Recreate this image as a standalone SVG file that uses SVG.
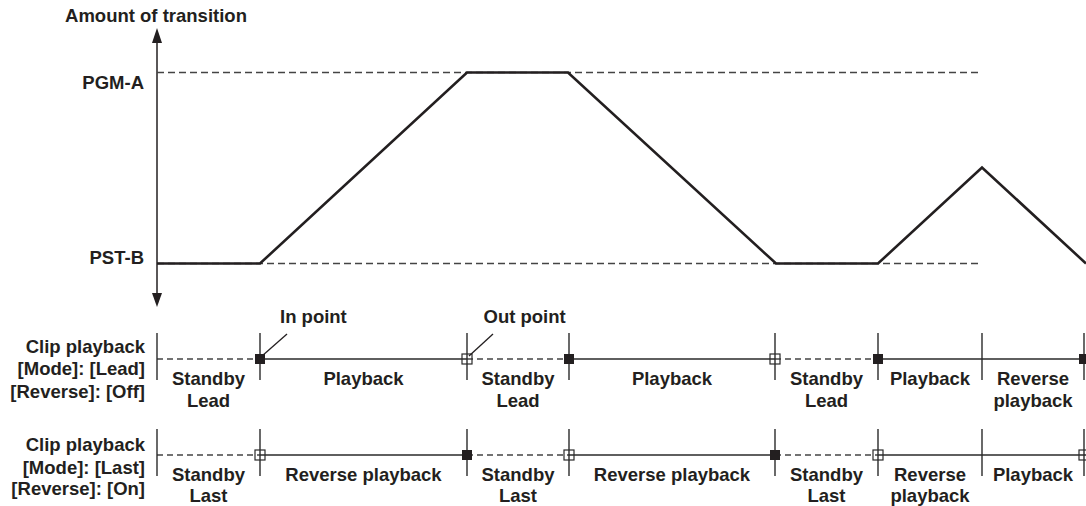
<svg xmlns="http://www.w3.org/2000/svg" width="1086" height="506" viewBox="0 0 1086 506">
  <style>
    text { font-family: "Liberation Sans", Arial, sans-serif; font-weight: bold; font-size: 18.5px; fill: #231f20; }
    .r { text-anchor: end; }
    .m { text-anchor: middle; }
    .axis { stroke: #231f20; stroke-width: 1.5; fill: none; }
    .guide { stroke: #444; stroke-width: 1.5; stroke-dasharray: 7 4; fill: none; }
    .trace { stroke: #231f20; stroke-width: 2.6; fill: none; stroke-linejoin: miter; }
    .run { stroke: #2a2a2a; stroke-width: 1.6; fill: none; }
    .wait { stroke: #444; stroke-width: 1.5; stroke-dasharray: 6 4; fill: none; }
    .tick { stroke: #2a2a2a; stroke-width: 1.4; }
    .lead { stroke: #231f20; stroke-width: 1.3; }
    .on { fill: #231f20; }
    .off { fill: none; stroke: #2a2a2a; stroke-width: 1.2; }
  </style>

  <!-- transition amount chart -->
  <g id="chart">
    <text class="m" x="156" y="21.5">Amount of transition</text>
    <text class="r" x="144" y="89">PGM-A</text>
    <text class="r" x="144" y="264">PST-B</text>
    <line class="axis" x1="157" y1="40" x2="157" y2="296"/>
    <polygon points="157,28 152,43 162,43" fill="#231f20"/>
    <polygon points="157,307 152,293 162,293" fill="#231f20"/>
    <line class="guide" x1="157" y1="72.5" x2="982" y2="72.5"/>
    <line class="guide" x1="157" y1="263.5" x2="982" y2="263.5"/>
    <polyline class="trace" points="157,263.5 260,263.5 467,72.5 568,72.5 776,263.5 878,263.5 982,167.5 1086,263.5"/>
  </g>

  <!-- clip playback, Lead / Reverse Off -->
  <g id="row-lead">
    <text class="r" x="145" y="352.5">Clip playback</text>
    <text class="r" x="145" y="375">[Mode]: [Lead]</text>
    <text class="r" x="145" y="397.5">[Reverse]: [Off]</text>
    <g class="connectors">
      <line class="wait" x1="157" y1="359" x2="260" y2="359"/>
      <line class="run" x1="260" y1="359" x2="467" y2="359"/>
      <line class="wait" x1="467" y1="359" x2="569" y2="359"/>
      <line class="run" x1="569" y1="359" x2="775" y2="359"/>
      <line class="wait" x1="775" y1="359" x2="878" y2="359"/>
      <line class="run" x1="878" y1="359" x2="1086" y2="359"/>
      <line class="tick" x1="157" y1="333" x2="157" y2="380"/>
      <line class="tick" x1="260" y1="333" x2="260" y2="380"/>
      <line class="tick" x1="467" y1="333" x2="467" y2="380"/>
      <line class="tick" x1="569" y1="333" x2="569" y2="380"/>
      <line class="tick" x1="775" y1="333" x2="775" y2="380"/>
      <line class="tick" x1="878" y1="333" x2="878" y2="380"/>
      <line class="tick" x1="982" y1="333" x2="982" y2="380"/>
      <line class="tick" x1="1084" y1="333" x2="1084" y2="380"/>
    </g>
    <rect class="on" x="255" y="354" width="10" height="10"/>
    <rect class="off" x="462" y="354" width="10" height="10"/>
    <rect class="on" x="564" y="354" width="10" height="10"/>
    <rect class="off" x="770" y="354" width="10" height="10"/>
    <rect class="on" x="873" y="354" width="10" height="10"/>
    <rect class="on" x="1079" y="354" width="10" height="10"/>
    <line class="lead" x1="262" y1="356" x2="287" y2="334"/>
    <line class="lead" x1="469" y1="356" x2="493" y2="334"/>
    <text x="280" y="323">In point</text>
    <text x="483.5" y="323">Out point</text>
    <text class="m" x="208.5" y="385">Standby</text>
    <text class="m" x="208.5" y="406.5">Lead</text>
    <text class="m" x="363.5" y="385">Playback</text>
    <text class="m" x="518" y="385">Standby</text>
    <text class="m" x="518" y="406.5">Lead</text>
    <text class="m" x="672" y="385">Playback</text>
    <text class="m" x="826.5" y="385">Standby</text>
    <text class="m" x="826.5" y="406.5">Lead</text>
    <text class="m" x="930" y="385">Playback</text>
    <text class="m" x="1033" y="385">Reverse</text>
    <text class="m" x="1033" y="406.5">playback</text>
  </g>

  <!-- clip playback, Last / Reverse On -->
  <g id="row-last">
    <text class="r" x="145" y="451">Clip playback</text>
    <text class="r" x="145" y="473.5">[Mode]: [Last]</text>
    <text class="r" x="145" y="495">[Reverse]: [On]</text>
    <g class="connectors">
      <line class="wait" x1="157" y1="455" x2="260" y2="455"/>
      <line class="run" x1="260" y1="455" x2="467" y2="455"/>
      <line class="wait" x1="467" y1="455" x2="569" y2="455"/>
      <line class="run" x1="569" y1="455" x2="775" y2="455"/>
      <line class="wait" x1="775" y1="455" x2="878" y2="455"/>
      <line class="run" x1="878" y1="455" x2="1086" y2="455"/>
      <line class="tick" x1="157" y1="429" x2="157" y2="476"/>
      <line class="tick" x1="260" y1="429" x2="260" y2="476"/>
      <line class="tick" x1="467" y1="429" x2="467" y2="476"/>
      <line class="tick" x1="569" y1="429" x2="569" y2="476"/>
      <line class="tick" x1="775" y1="429" x2="775" y2="476"/>
      <line class="tick" x1="878" y1="429" x2="878" y2="476"/>
      <line class="tick" x1="982" y1="429" x2="982" y2="476"/>
      <line class="tick" x1="1084" y1="429" x2="1084" y2="476"/>
    </g>
    <rect class="off" x="255" y="450" width="10" height="10"/>
    <rect class="on" x="462" y="450" width="10" height="10"/>
    <rect class="off" x="564" y="450" width="10" height="10"/>
    <rect class="on" x="770" y="450" width="10" height="10"/>
    <rect class="off" x="873" y="450" width="10" height="10"/>
    <rect class="off" x="1079" y="450" width="10" height="10"/>
    <text class="m" x="208.5" y="481">Standby</text>
    <text class="m" x="208.5" y="502">Last</text>
    <text class="m" x="363.5" y="481">Reverse playback</text>
    <text class="m" x="518" y="481">Standby</text>
    <text class="m" x="518" y="502">Last</text>
    <text class="m" x="672" y="481">Reverse playback</text>
    <text class="m" x="826.5" y="481">Standby</text>
    <text class="m" x="826.5" y="502">Last</text>
    <text class="m" x="930" y="481">Reverse</text>
    <text class="m" x="930" y="502">playback</text>
    <text class="m" x="1033" y="481">Playback</text>
  </g>
</svg>
